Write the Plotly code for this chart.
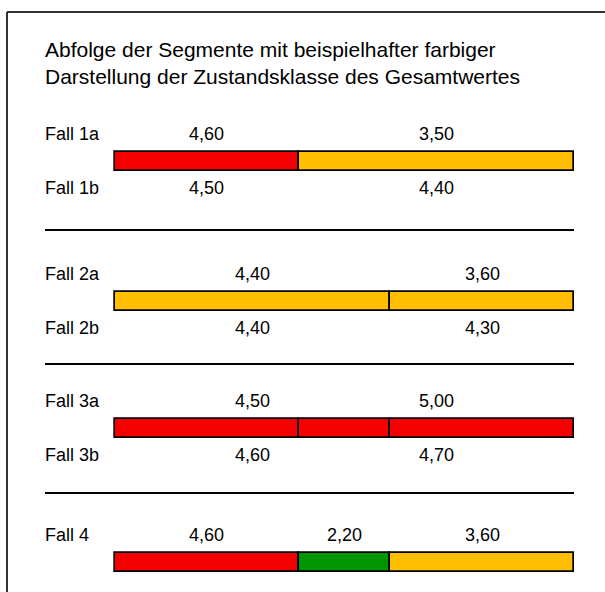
import plotly.graph_objects as go

# ---- data ----
title_lines = ["Abfolge der Segmente mit beispielhafter farbiger",
               "Darstellung der Zustandsklasse des Gesamtwertes"]

# segment boundaries along the road (fraction of total length)
seg_starts = [[0.0, 0.4], [0.0, 0.6], [0.0, 0.4, 0.6], [0.0, 0.4, 0.6]]
seg_lengths = [[0.4, 0.6], [0.6, 0.4], [0.4, 0.2, 0.4], [0.4, 0.2, 0.4]]
seg_classes = [["rot", "gelb"], ["gelb", "gelb"], ["rot", "rot", "rot"], ["rot", "gruen", "gelb"]]

# case labels
case_top = ["Fall 1a", "Fall 2a", "Fall 3a", "Fall 4"]
case_bot = ["Fall 1b", "Fall 2b", "Fall 3b", None]

# values above and below bars: (centre along road, text)
val_pos_top = [[0.2, 0.7], [0.3, 0.8], [0.3, 0.7], [0.2, 0.5, 0.8]]
val_top = [["4,60", "3,50"], ["4,40", "3,60"], ["4,50", "5,00"], ["4,60", "2,20", "3,60"]]
val_pos_bot = [[0.2, 0.7], [0.3, 0.8], [0.3, 0.7], []]
val_bot = [["4,50", "4,40"], ["4,40", "4,30"], ["4,60", "4,70"], []]

class_colors = {"rot": "#F40000", "gelb": "#FFBF00", "gruen": "#009600"}

# ---- layout helpers (pixel geometry) ----
W, H = 605, 592
bar_x0_px, bar_x1_px = 115, 574
bar_centers = [161, 301, 428, 562]
sep_y = [230, 364, 493]
span = bar_x1_px - bar_x0_px
xr0 = -bar_x0_px / span
xr1 = (W - bar_x0_px) / span
text_x_px = 43

FONT = "Arial, Liberation Sans, sans-serif"
TITLE_SIZE = 21
LABEL_SIZE = 18

fig = go.Figure()

for i, yc in enumerate(bar_centers):
    for b, l, c in zip(seg_starts[i], seg_lengths[i], seg_classes[i]):
        fig.add_trace(go.Bar(
            y=[yc], x=[l], base=[b], orientation="h", width=19,
            marker=dict(color=class_colors[c], line=dict(color="black", width=1.7)),
            showlegend=False, hoverinfo="skip"))

annotations = []
annotations.append(dict(
    text="<br>".join(title_lines), xref="paper", yref="y", x=text_x_px / W, y=63,
    xanchor="left", yanchor="middle", align="left", showarrow=False,
    font=dict(family=FONT, size=TITLE_SIZE, color="black")))

for i, yc in enumerate(bar_centers):
    ya, yb = yc - 27, yc + 27
    annotations.append(dict(text=case_top[i], xref="paper", yref="y", x=text_x_px / W, y=ya,
                            xanchor="left", yanchor="middle", showarrow=False,
                            font=dict(family=FONT, size=LABEL_SIZE, color="black")))
    if case_bot[i]:
        annotations.append(dict(text=case_bot[i], xref="paper", yref="y", x=text_x_px / W, y=yb,
                                xanchor="left", yanchor="middle", showarrow=False,
                                font=dict(family=FONT, size=LABEL_SIZE, color="black")))
    for p, t in zip(val_pos_top[i], val_top[i]):
        annotations.append(dict(text=t, xref="x", yref="y", x=p, y=ya,
                                xanchor="center", yanchor="middle", showarrow=False,
                                font=dict(family=FONT, size=LABEL_SIZE, color="black")))
    for p, t in zip(val_pos_bot[i], val_bot[i]):
        annotations.append(dict(text=t, xref="x", yref="y", x=p, y=yb,
                                xanchor="center", yanchor="middle", showarrow=False,
                                font=dict(family=FONT, size=LABEL_SIZE, color="black")))

shapes = []
# frame (top and left)
shapes.append(dict(type="line", xref="paper", yref="y", x0=7 / W, x1=1, y0=12, y1=12,
                   line=dict(color="#333333", width=2)))
shapes.append(dict(type="line", xref="paper", yref="y", x0=7 / W, x1=7 / W, y0=12, y1=H,
                   line=dict(color="#333333", width=2)))
for y in sep_y:
    shapes.append(dict(type="line", xref="paper", yref="y", x0=45 / W, x1=bar_x1_px / W,
                       y0=y, y1=y, line=dict(color="black", width=2)))

fig.update_layout(
    width=W, height=H, margin=dict(l=0, r=0, t=0, b=0),
    paper_bgcolor="white", plot_bgcolor="white",
    xaxis=dict(range=[xr0, xr1], visible=False, fixedrange=True),
    yaxis=dict(range=[H, 0], visible=False, fixedrange=True),
    barmode="overlay", bargap=0,
    annotations=annotations, shapes=shapes,
)

fig.write_html("out.html", config={"displayModeBar": False},
               post_script="document.body.style.margin='0';document.body.style.overflow='hidden';")
